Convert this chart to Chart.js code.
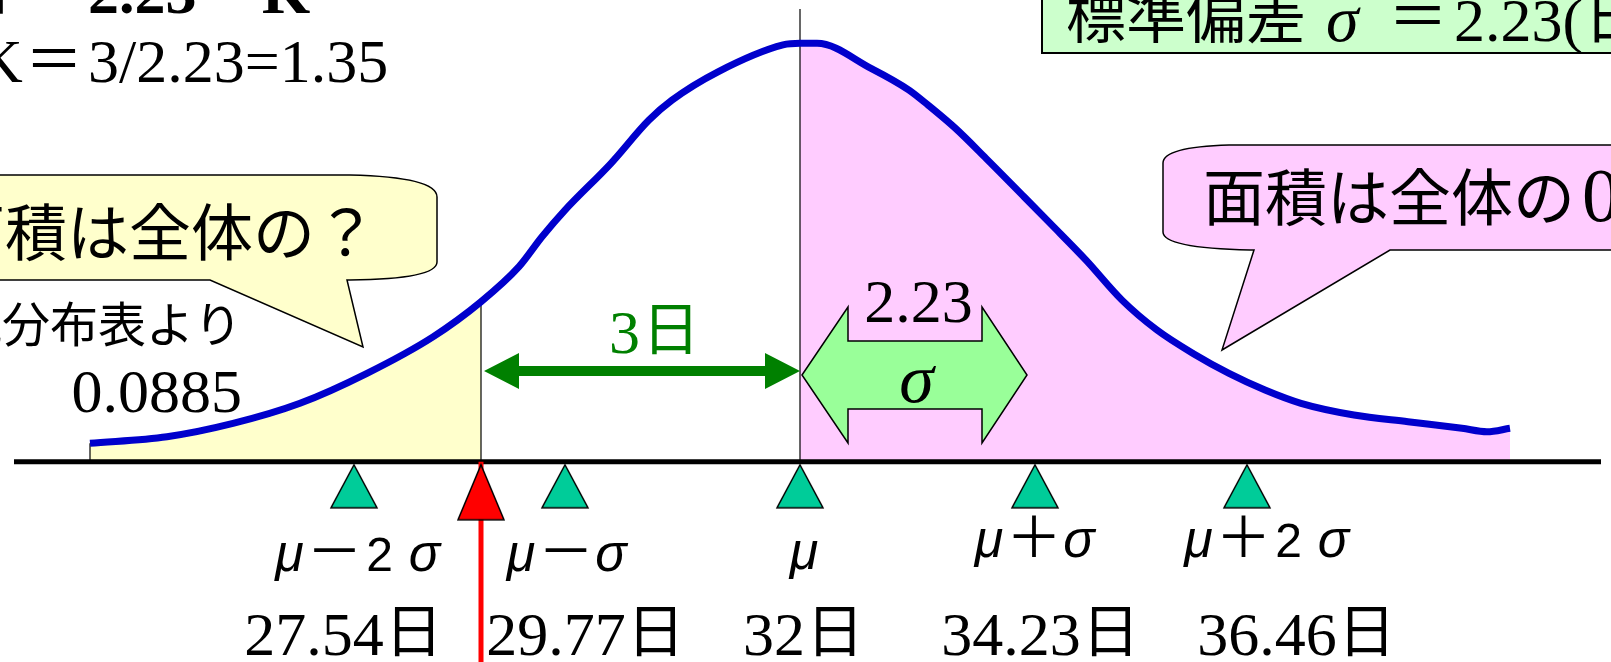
<!DOCTYPE html>
<html>
<head>
<meta charset="utf-8">
<script src="https://cdn.jsdelivr.net/npm/chart.js@4.4.0/dist/chart.umd.min.js"></script>
<style>
  html, body { margin: 0; padding: 0; background: #fff; overflow: hidden; }
</style>
</head>
<body>
<canvas id="normGraph" width="1611" height="662"></canvas>
<script>
// curve (days / relative density)
var curveDays = [24.90, 25.67, 26.33, 27.00, 27.67, 28.33, 28.81, 29.19, 29.42, 29.65, 30.11, 30.49, 30.72, 31.18, 31.83, 32.00, 32.17, 32.71, 33.09, 33.28, 33.55, 33.86, 34.24, 34.50, 34.86, 35.22, 35.57, 35.93, 36.29, 36.65, 37.01, 37.54, 38.08, 38.62, 38.87, 39.10];
var curveHeight = [0.0079, 0.0107, 0.0164, 0.0250, 0.0378, 0.0534, 0.0684, 0.0834, 0.0962, 0.1076, 0.1276, 0.1461, 0.1546, 0.1667, 0.1782, 0.1789, 0.1789, 0.1682, 0.1589, 0.1525, 0.1427, 0.1297, 0.1133, 0.1020, 0.0862, 0.0691, 0.0563, 0.0463, 0.0378, 0.0307, 0.0250, 0.0200, 0.0171, 0.0143, 0.0128, 0.0143];

var mu = 32;
var sigma = 2.23;
var cutDay = 28.81;          // red arrow (mu - 3 days as drawn)
var muLineTop = 0.1935;
var axisFrom = 24.14, axisTo = 40.01;

// sigma marks as drawn on the axis
var markerDays = [27.54, 29.65, 32, 34.35, 36.47];
var sigmaLabels = ['μ－2σ', 'μ－σ', 'μ', 'μ＋σ', 'μ＋2σ'];
var dayLabels = ['27.54日', '29.77日', '32日', '34.23日', '36.46日'];
var tailArea = '0.0885';
var kText = 'K＝3/2.23=1.35';

var SERIF = "'Liberation Serif', 'Times New Roman', serif";
var SANS = "'Liberation Sans', Arial, sans-serif";
var JP = "'Noto Sans CJK JP', sans-serif";

function pts(xs, ys) {
  var out = [];
  for (var i = 0; i < xs.length; i++) out.push({x: xs[i], y: ys[i]});
  return out;
}
var curvePts = pts(curveDays, curveHeight);
var leftPts = curvePts.filter(function (p) { return p.x <= cutDay; });
var rightPts = curvePts.filter(function (p) { return p.x >= mu; });

// triangle marker image, apex sits on the axis
function makeTri(w, h, gap, fill) {
  var c = document.createElement('canvas');
  c.width = w + 4;
  c.height = 2 * (gap + h + 2);
  var g = c.getContext('2d');
  var cx = c.width / 2, top = c.height / 2 + gap;
  g.beginPath();
  g.moveTo(cx, top);
  g.lineTo(cx + w / 2, top + h);
  g.lineTo(cx - w / 2, top + h);
  g.closePath();
  g.fillStyle = fill;
  g.fill();
  g.lineWidth = 1.5;
  g.strokeStyle = '#000';
  g.stroke();
  return c;
}
var greenTri = makeTri(46, 43, 3, '#00CC99');
var redTri = makeTri(46, 55, 3, '#FF0000');

function charRow(ctx, str, cx, baseline, cell) {
  var chars = Array.from(str);
  var x = cx - chars.length * cell / 2 + cell / 2;
  ctx.textAlign = 'center';
  chars.forEach(function (ch) {
    if (ch === 'μ' || ch === 'σ') ctx.font = 'italic 52px ' + SANS;
    else if (ch === '－' || ch === '＋') ctx.font = '56px ' + JP;
    else ctx.font = '48px ' + SANS;
    ctx.fillText(ch, x, baseline);
    x += cell;
  });
}

var annotPlugin = {
  id: 'annot',
  afterDatasetsDraw: function (chart) {
    var ctx = chart.ctx;
    var xs = chart.scales.x;
    ctx.save();
    ctx.textBaseline = 'alphabetic';
    ctx.fillStyle = '#000';

    // top left formulas (cut off by the top edge)
    ctx.font = 'bold 62px ' + JP;
    ctx.textAlign = 'right';
    ctx.fillText('3日', 12, 9);
    ctx.textAlign = 'left';
    ctx.fillText('＝', 22, 9);
    ctx.font = 'bold 62px ' + SERIF;
    ctx.fillText('2.23', 88, 13);
    ctx.fillText('K', 262, 13);

    ctx.font = '62px ' + SERIF;
    ctx.fillText(kText.split('＝')[0], -22, 82);
    ctx.font = '58px ' + JP;
    ctx.textAlign = 'center';
    ctx.fillText('＝', 54, 80);
    ctx.textAlign = 'left';
    ctx.font = '62px ' + SERIF;
    ctx.fillText(kText.split('＝')[1], 88, 82);

    // top right box
    ctx.beginPath();
    ctx.rect(1042, -5, 600, 58);
    ctx.fillStyle = '#CCFFCC';
    ctx.fill();
    ctx.lineWidth = 2;
    ctx.strokeStyle = '#000';
    ctx.stroke();
    ctx.fillStyle = '#000';
    ctx.font = '60px ' + JP;
    ctx.fillText('標準偏差', 1066, 38);
    ctx.font = 'italic 66px ' + SERIF;
    ctx.fillText('σ', 1326, 41);
    ctx.font = '60px ' + JP;
    ctx.textAlign = 'center';
    ctx.fillText('＝', 1418, 38);
    ctx.textAlign = 'left';
    ctx.font = '62px ' + SERIF;
    ctx.fillText('2.23(', 1454, 41);
    ctx.font = '60px ' + JP;
    ctx.fillText('日)', 1584, 38);

    // yellow callout
    ctx.beginPath();
    ctx.moveTo(-10, 175);
    ctx.lineTo(350, 175);
    ctx.quadraticCurveTo(437, 177, 437, 197);
    ctx.lineTo(437, 262);
    ctx.quadraticCurveTo(437, 279, 350, 280);
    ctx.lineTo(347, 280);
    ctx.lineTo(363, 347);
    ctx.lineTo(210, 280);
    ctx.lineTo(-10, 280);
    ctx.closePath();
    ctx.fillStyle = '#FFFFCC';
    ctx.fill();
    ctx.lineWidth = 1.5;
    ctx.stroke();
    ctx.fillStyle = '#000';
    ctx.font = '62px ' + JP;
    ctx.fillText('面積は全体の？', -57, 256);

    // pink callout
    ctx.beginPath();
    ctx.moveTo(1640, 145);
    ctx.lineTo(1229, 145);
    ctx.quadraticCurveTo(1163, 147, 1163, 163);
    ctx.lineTo(1163, 232);
    ctx.quadraticCurveTo(1163, 248, 1250, 250);
    ctx.lineTo(1254, 250);
    ctx.lineTo(1222, 350);
    ctx.lineTo(1390, 250);
    ctx.lineTo(1640, 250);
    ctx.closePath();
    ctx.fillStyle = '#FFCCFF';
    ctx.fill();
    ctx.stroke();
    ctx.fillStyle = '#000';
    ctx.font = '62px ' + JP;
    ctx.fillText('面積は全体の', 1203, 221);
    ctx.font = '76px ' + SERIF;
    ctx.fillText('0.5', 1582, 221);

    // table note
    ctx.font = '48px ' + JP;
    ctx.textAlign = 'right';
    ctx.fillText('正規分布表より', 242, 342);
    ctx.font = '62px ' + SERIF;
    ctx.fillText(tailArea, 242, 412);

    // 3 days arrow
    var xa = xs.getPixelForValue(cutDay) + 3, xb = xs.getPixelForValue(mu), ya = 371;
    ctx.fillStyle = '#008000';
    ctx.beginPath();
    ctx.moveTo(xa, ya);
    ctx.lineTo(xa + 35, ya - 18);
    ctx.lineTo(xa + 35, ya - 5);
    ctx.lineTo(xb - 35, ya - 5);
    ctx.lineTo(xb - 35, ya - 18);
    ctx.lineTo(xb, ya);
    ctx.lineTo(xb - 35, ya + 18);
    ctx.lineTo(xb - 35, ya + 5);
    ctx.lineTo(xa + 35, ya + 5);
    ctx.lineTo(xa + 35, ya + 18);
    ctx.closePath();
    ctx.fill();
    ctx.textAlign = 'left';
    ctx.font = '62px ' + SERIF;
    ctx.fillText('3', 609, 353);
    ctx.font = '58px ' + JP;
    ctx.fillText('日', 642, 350);

    // sigma block arrow
    var s0 = xs.getPixelForValue(mu) + 2, s1 = xs.getPixelForValue(mu + sigma) + 4, yc = 375;
    ctx.beginPath();
    ctx.moveTo(s0, yc);
    ctx.lineTo(s0 + 46, yc - 68);
    ctx.lineTo(s0 + 46, yc - 34);
    ctx.lineTo(s1 - 45, yc - 34);
    ctx.lineTo(s1 - 45, yc - 68);
    ctx.lineTo(s1, yc);
    ctx.lineTo(s1 - 45, yc + 68);
    ctx.lineTo(s1 - 45, yc + 34);
    ctx.lineTo(s0 + 46, yc + 34);
    ctx.lineTo(s0 + 46, yc + 68);
    ctx.closePath();
    ctx.fillStyle = '#99FF99';
    ctx.fill();
    ctx.strokeStyle = '#000';
    ctx.lineWidth = 1.5;
    ctx.stroke();
    ctx.fillStyle = '#000';
    ctx.textAlign = 'center';
    ctx.font = '62px ' + SERIF;
    ctx.fillText(sigma.toFixed(2), (s0 + s1) / 2 + 4, 322);
    ctx.font = 'italic 70px ' + SERIF;
    ctx.fillText('σ', (s0 + s1) / 2 + 2, 402);

    // axis labels
    var muOff = [3, 1, 4, -1, 19];
    var muBase = [571, 571, 569, 557, 557];
    var dayOff = [-10, 21, 4, 6, 50];
    markerDays.forEach(function (d, i) {
      var px = xs.getPixelForValue(d);
      charRow(ctx, sigmaLabels[i], px + muOff[i], muBase[i], 45);
      var lbl = dayLabels[i];
      var num = lbl.replace('日', '');
      ctx.font = '62px ' + SERIF;
      var w1 = ctx.measureText(num).width;
      var tot = w1 + 60;
      var left = px + dayOff[i] - tot / 2;
      ctx.textAlign = 'left';
      ctx.fillText(num, left, 655);
      ctx.font = '58px ' + JP;
      ctx.fillText('日', left + w1 + 1, 652);
    });
    ctx.restore();
  }
};

var ctx = document.getElementById('normGraph').getContext('2d');
var myChart = new Chart(ctx, {
  type: 'line',
  data: {
    datasets: [
      {
        label: 'marks',
        data: markerDays.map(function (d) { return {x: d, y: 0}; }),
        showLine: false,
        pointStyle: greenTri,
        pointRadius: 10,
        order: 1
      },
      {
        label: 'cut',
        data: [{x: cutDay, y: 0}],
        showLine: false,
        pointStyle: redTri,
        pointRadius: 10,
        order: 1
      },
      {
        label: 'red arrow',
        data: [{x: cutDay, y: 0}, {x: cutDay, y: -0.0856}],
        borderColor: '#FF0000',
        borderWidth: 5,
        order: 2
      },
      {
        label: 'axis',
        data: [{x: axisFrom, y: 0}, {x: axisTo, y: 0}],
        borderColor: '#000',
        borderWidth: 5,
        order: 3
      },
      {
        label: 'curve',
        data: curvePts,
        borderColor: '#0000CC',
        borderWidth: 7,
        cubicInterpolationMode: 'monotone',
        order: 4
      },
      {
        label: 'mu line',
        data: [{x: mu, y: 0}, {x: mu, y: muLineTop}],
        borderColor: '#000',
        borderWidth: 1.2,
        order: 5
      },
      {
        label: 'cut line',
        data: [{x: cutDay, y: 0}, {x: cutDay, y: curveHeight[curveDays.indexOf(cutDay)]}],
        borderColor: '#000',
        borderWidth: 1.2,
        order: 5
      },
      {
        label: 'start edge',
        data: [{x: curveDays[0], y: 0}, {x: curveDays[0], y: curveHeight[0]}],
        borderColor: '#000',
        borderWidth: 1.2,
        order: 5
      },
      {
        label: 'lower tail',
        data: leftPts,
        borderWidth: 0,
        borderColor: 'rgba(0,0,0,0)',
        backgroundColor: '#FFFFCC',
        fill: 'origin',
        cubicInterpolationMode: 'monotone',
        order: 10
      },
      {
        label: 'upper half',
        data: rightPts,
        borderWidth: 0,
        borderColor: 'rgba(0,0,0,0)',
        backgroundColor: '#FFCCFF',
        fill: 'origin',
        cubicInterpolationMode: 'monotone',
        order: 10
      }
    ]
  },
  options: {
    responsive: false,
    animation: false,
    layout: { padding: 0, autoPadding: false },
    elements: { point: { radius: 0, hoverRadius: 0 } },
    plugins: {
      legend: { display: false },
      tooltip: { enabled: false }
    },
    scales: {
      x: { type: 'linear', min: 24, max: 40.11, display: false },
      y: { type: 'linear', min: -0.0856, max: 0.1974, display: false }
    }
  },
  plugins: [annotPlugin]
});
</script>
</body>
</html>
